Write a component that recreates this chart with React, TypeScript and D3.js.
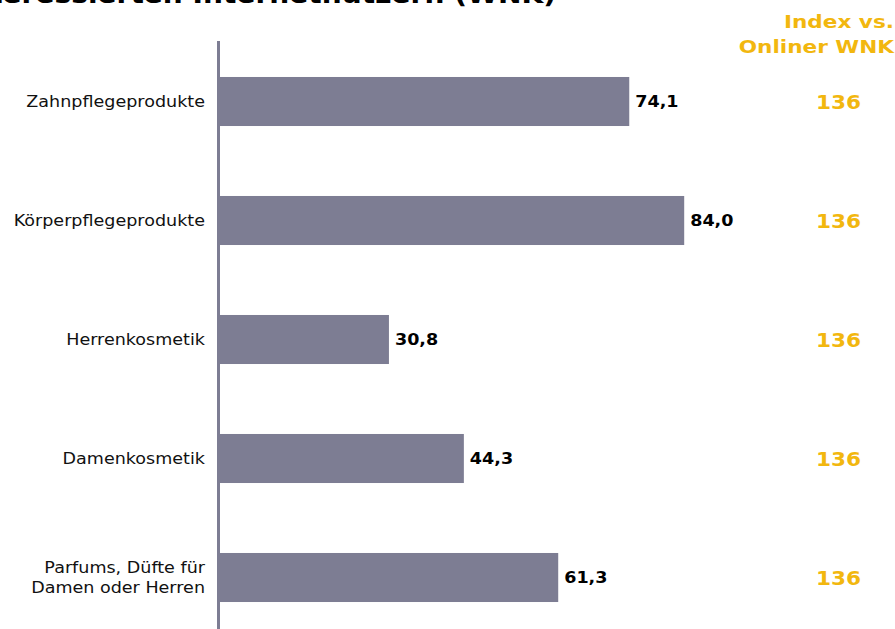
import React from "react";
import * as d3 from "d3";

const categories: string[][] = [
  ["Zahnpflegeprodukte"],
  ["Körperpflegeprodukte"],
  ["Herrenkosmetik"],
  ["Damenkosmetik"],
  ["Parfums, Düfte für", "Damen oder Herren"],
];
const values: number[] = [74.1, 84.0, 30.8, 44.3, 61.3];
const indexValues: number[] = [136, 136, 136, 136, 136];
const titleText = "Nutzung bei interessierten Internetnutzern (WNK)";
const indexHeader: string[] = ["Index vs.", "Onliner WNK"];

const W = 895;
const H = 629;
const BAR = "#7D7D93";
const GOLD = "#F2B70F";
const FONT = "'DejaVu Sans', Verdana, sans-serif";
const SX = 1.17;

function T(props: { x: number; y: number; sx?: number; children: React.ReactNode; [k: string]: any }) {
  const { x, y, sx = SX, children, ...rest } = props;
  return (
    <text transform={`translate(${x},${y}) scale(${sx},1)`} {...rest}>{children}</text>
  );
}

export default function App() {
  const ids = categories.map((_, i) => String(i));
  const y = d3.scaleBand<string>().domain(ids).range([42, 637]).paddingInner(0.588).paddingOuter(0.294);
  const x = d3.scaleLinear().domain([0, 100]).range([218, 773]);
  const fmt = (v: number) => d3.format(".1f")(v).replace(".", ",");

  return (
    <svg width={W} height={H} style={{ position: "absolute", left: 0, top: 0, background: "#fff" }} fontFamily={FONT}>
      <T x={556} y={3} textAnchor="end" fontSize={24} fontWeight="bold" fill="#000">{titleText}</T>
      {indexHeader.map((t, i) => (
        <T key={i} x={894} y={28 + i * 25} sx={1.2} textAnchor="end" fontSize={18} fontWeight="bold" fill={GOLD}>{t}</T>
      ))}
      {values.map((v, i) => {
        const yy = y(ids[i])!;
        const bw = y.bandwidth();
        const cy = yy + bw / 2;
        const lines = categories[i];
        return (
          <g key={i}>
            <rect x={x(0)} y={yy} width={x(v) - x(0)} height={bw} fill={BAR} />
            {lines.map((l, j) => (
              <T key={j} x={205} y={cy + (j - (lines.length - 1) / 2) * 20} dy="0.35em" textAnchor="end" fontSize={15} fill="#111">{l}</T>
            ))}
            <T x={x(v) + 6} y={cy} dy="0.35em" fontSize={15} fontWeight="bold" fill="#000">{fmt(v)}</T>
            <T x={838.5} y={cy} sx={1.08} dy="0.35em" textAnchor="middle" fontSize={20} fontWeight="bold" fill={GOLD}>{indexValues[i]}</T>
          </g>
        );
      })}
      <line x1={218.5} x2={218.5} y1={41} y2={H} stroke={BAR} strokeWidth={3} />
    </svg>
  );
}
